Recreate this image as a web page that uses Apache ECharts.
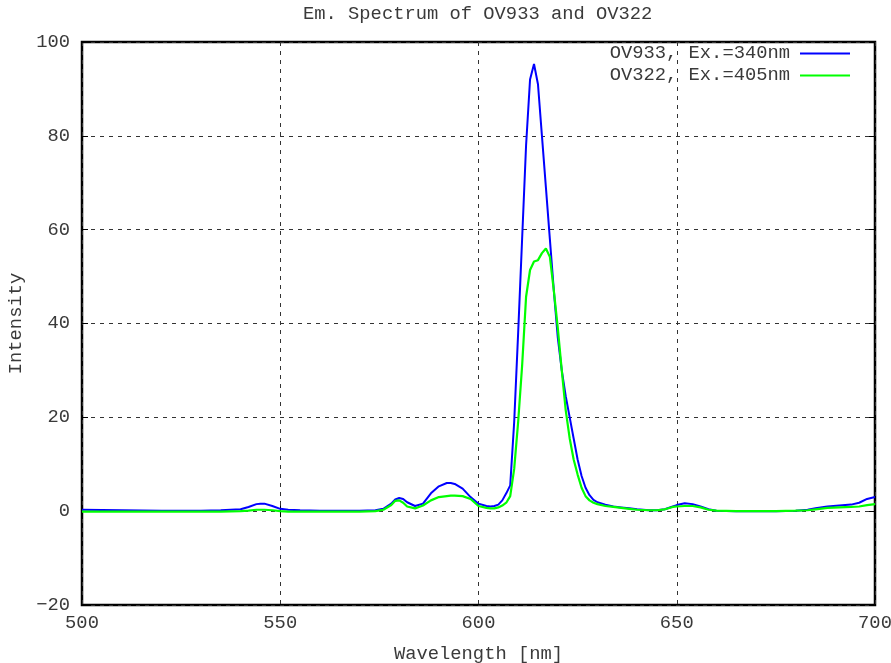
<!DOCTYPE html>
<html>
<head>
<meta charset="utf-8">
<script src="https://cdn.jsdelivr.net/npm/echarts@6/dist/echarts.min.js"></script>
<style>html,body{margin:0;padding:0;background:#fff;}#c{width:891px;height:663px;}</style>
</head>
<body>
<div id="c"></div>
<script>
const wavelengths = [500,510,520,530,535,540,542,544,545,546,548,550,552,555,560,565,570,574,576,578,579,580,581,582,584,586,588,590,592,593,594,596,598,600,602,603,604,605,606,607,608,609,610,611,612,613,614,615,616,617,618,619,620,621,622,623,624,625,626,627,628,629,630,632,634,636,638,640,643,645,647,649,650,652,654,656,658,660,665,670,675,680,683,685,688,691,694,696,698,700];
const ov933 = [0.3,0.2,0.1,0.1,0.2,0.4,0.9,1.5,1.6,1.6,1.1,0.5,0.3,0.2,0.1,0.1,0.1,0.2,0.5,1.6,2.5,2.8,2.6,1.9,1.1,1.6,3.8,5.3,6.0,6.0,5.8,4.8,3.0,1.6,1.1,1.0,1.1,1.4,2.3,3.8,5.5,19,38,58,78,92,95.3,91,80,69,58,47,37,30,24.5,20,15.5,11,7.5,5,3.4,2.4,1.9,1.4,1.0,0.8,0.6,0.4,0.2,0.2,0.4,1.0,1.3,1.7,1.5,1.0,0.4,0.1,0,0,0,0.1,0.3,0.6,1.0,1.2,1.4,1.8,2.6,3.0];
const ov322 = [-0.1,-0.1,-0.1,-0.1,-0.1,0,0.1,0.3,0.3,0.3,0.2,0,-0.1,-0.1,-0.1,-0.1,-0.1,0,0.3,1.3,2.2,2.3,1.8,1.0,0.6,1.2,2.3,3.0,3.2,3.3,3.3,3.2,2.6,1.1,0.7,0.6,0.6,0.8,1.2,1.8,3.2,9,19,31,45.7,51.4,53.2,53.5,55,56,54.2,47,39,30,21.5,15.5,11,7.8,5,3.2,2.3,1.8,1.5,1.1,0.9,0.7,0.5,0.3,0.2,0.2,0.4,0.9,1.0,1.1,1.1,0.8,0.3,0.1,0,0,0,0.1,0.2,0.4,0.7,0.8,0.9,1.0,1.3,1.5];
const seriesNames = ['OV933, Ex.=340nm', 'OV322, Ex.=405nm'];
const titleText = 'Em. Spectrum of OV933 and OV322';
const xName = 'Wavelength [nm]';
const yName = 'Intensity';

const FONT = '"Liberation Mono", "DejaVu Sans Mono", monospace';
const FS = 18.8;
const TXT = '#3a3a3a';

const chart = echarts.init(document.getElementById('c'), null, {renderer: 'canvas'});
const pair = (ys) => wavelengths.map((x, i) => [x, ys[i]]);
const grid = {left: 82, right: 16, top: 42, bottom: 58};
const dash = {type: [4, 5], color: '#333', width: 1};

chart.setOption({
  animation: false,
  backgroundColor: '#fff',
  title: {
    text: titleText, left: 303, top: 5, padding: 0,
    textStyle: {fontFamily: FONT, fontSize: FS, fontWeight: 'normal', color: TXT}
  },
  legend: {
    orient: 'vertical', right: 41, top: 44, align: 'right', padding: 0,
    itemWidth: 50, itemHeight: 2, itemGap: 3, icon: 'rect',
    textStyle: {fontFamily: FONT, fontSize: FS, color: TXT, padding: [0, 5, 0, 0]},
    data: seriesNames
  },
  grid: Object.assign({show: true, borderColor: '#000', borderWidth: 2.5, backgroundColor: 'transparent', outerBoundsMode: 'none', containLabel: false}, grid),
  xAxis: [{
    type: 'value', min: 500, max: 700, interval: 50,
    name: xName, nameLocation: 'middle', nameGap: 40,
    nameTextStyle: {fontFamily: FONT, fontSize: FS, color: TXT},
    axisLine: {show: false},
    axisTick: {show: true, inside: true, length: 6, lineStyle: {color: '#000'}},
    axisLabel: {fontFamily: FONT, fontSize: FS, color: TXT, margin: 9},
    splitLine: {show: true, lineStyle: dash}
  }, {
    type: 'value', position: 'top', min: 500, max: 700, interval: 50,
    axisLine: {show: false},
    axisTick: {show: true, inside: true, length: 6, lineStyle: {color: '#000'}},
    axisLabel: {show: false}, splitLine: {show: false}
  }],
  yAxis: [{
    type: 'value', min: -20, max: 100, interval: 20,
    name: yName, nameLocation: 'middle', nameGap: 55, nameRotate: 90,
    nameTextStyle: {fontFamily: FONT, fontSize: FS, color: TXT},
    axisLine: {show: false},
    axisTick: {show: true, inside: true, length: 6, lineStyle: {color: '#000'}},
    axisLabel: {fontFamily: FONT, fontSize: FS, color: TXT, margin: 12,
      formatter: (v) => (v < 0 ? '\u2212' + Math.abs(v) : String(v))},
    splitLine: {show: true, lineStyle: dash}
  }, {
    type: 'value', position: 'right', min: -20, max: 100, interval: 20,
    axisLine: {show: false},
    axisTick: {show: true, inside: true, length: 6, lineStyle: {color: '#000'}},
    axisLabel: {show: false}, splitLine: {show: false}
  }],
  series: [{
    name: seriesNames[0], type: 'line', data: pair(ov933),
    showSymbol: false, symbol: 'none', color: '#0000ff',
    lineStyle: {color: '#0000ff', width: 2}, z: 3
  }, {
    name: seriesNames[1], type: 'line', data: pair(ov322),
    showSymbol: false, symbol: 'none', color: '#00ff00',
    lineStyle: {color: '#00ff00', width: 2.2}, z: 4
  }]
});
</script>
</body>
</html>
